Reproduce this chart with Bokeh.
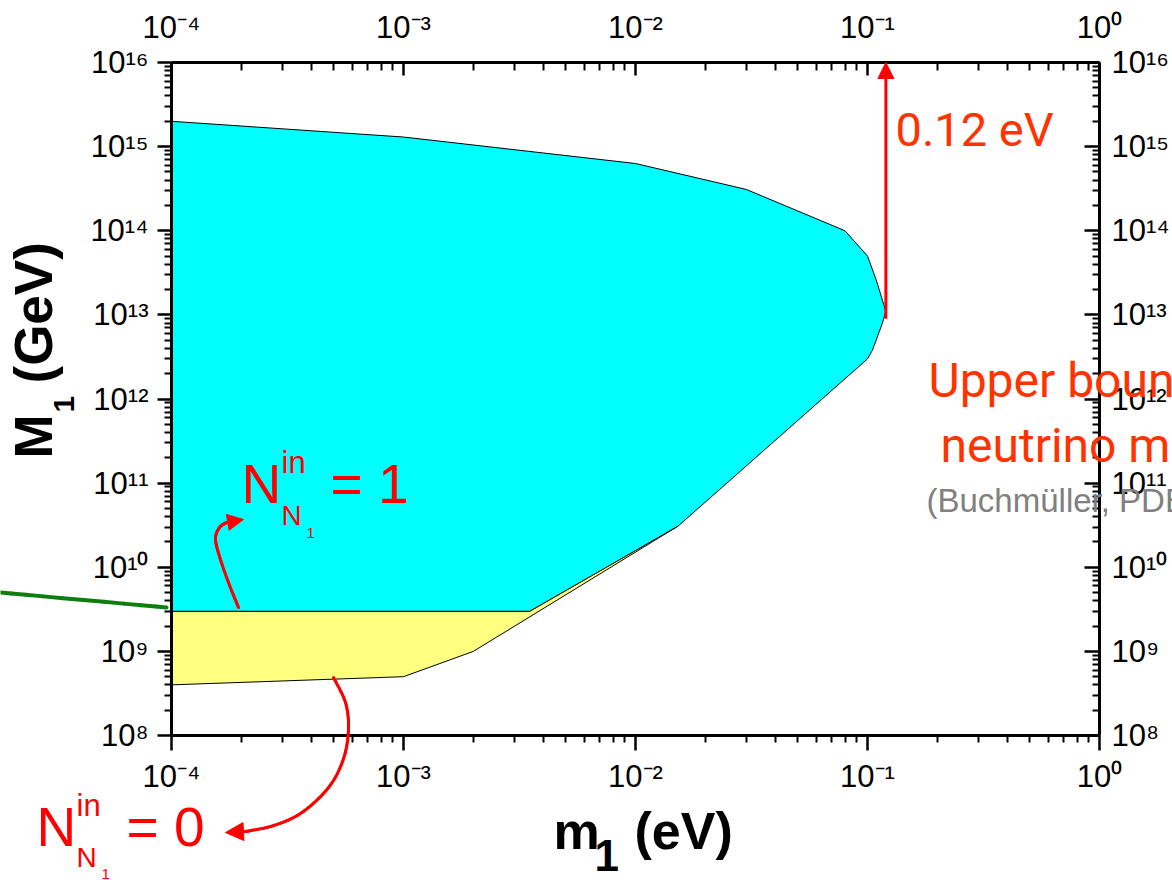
import numpy as np
from bokeh.plotting import figure
from bokeh.models import (LogAxis, FixedTicker, CustomJSTickFormatter, Label, Arrow,
                          NormalHead, ColumnDataSource, Range1d)
from bokeh.embed import file_html
from bokeh.resources import INLINE

# ---------------- data ----------------
x_major = [1e-4, 1e-3, 1e-2, 1e-1, 1e0]
y_major = [1e8, 1e9, 1e10, 1e11, 1e12, 1e13, 1e14, 1e15, 1e16]

# N_N1^in = 1 allowed region (cyan)
cyan_m1 = [1e-4, 1e-3, 1e-2, 0.03, 0.08, 0.1, 0.109, 0.12, 0.116, 0.105, 0.1, 0.065, 0.0153, 3.5e-3, 1e-4]
cyan_M1 = [2e15, 1.3e15, 6.3e14, 3.1e14, 1e14, 5e13, 2.6e13, 1.1e13, 8e12, 3.8e12, 3e12, 1.05e12, 3.1e10, 3e9, 3e9]

# N_N1^in = 0 extra region (yellow)
yellow_m1 = [1e-4, 3.5e-3, 0.0153, 2e-3, 1e-3, 1e-4]
yellow_M1 = [3e9, 3e9, 3.1e10, 1e9, 5e8, 4e8]

bound_m1 = 0.12          # upper bound on m1 (eV)
bound_M1 = [9e12, 1e16]  # vertical extent of the bound arrow

# ---------------- layout (pixels of the plot box) ----------------
W, H = 1172, 880
FL, FR, FT, FB = 171, 1099, 62, 735


def X(px):
    return 10 ** (-4 + (px - FL) / (FR - FL) * 4)


def Y(py):
    return 10 ** (16 - (py - FT) / (FB - FT) * 8)


def minors(majors):
    out = []
    for m in majors[:-1]:
        out += [k * m for k in range(2, 10)]
    return out


# the frame covers the whole canvas; the axes sit at fixed locations around the plot box
p = figure(width=W, height=H, x_axis_type="log", y_axis_type="log",
           x_axis_location=None, y_axis_location=None,
           x_range=Range1d(X(0), X(W)), y_range=Range1d(Y(H), Y(0)),
           output_backend="svg", toolbar_location=None,
           min_border_left=0, min_border_right=0, min_border_top=0, min_border_bottom=0)
p.xgrid.visible = False
p.ygrid.visible = False
p.outline_line_color = None
p.background_fill_color = "white"
p.border_fill_color = "white"

fmt_code = """
const sup = {"-":"\u207b","0":"\u2070","1":"\u00b9","2":"\u00b2","3":"\u00b3","4":"\u2074",
             "5":"\u2075","6":"\u2076","7":"\u2077","8":"\u2078","9":"\u2079"};
const e = Math.round(Math.log10(tick));
return "10" + String(e).split("").map(c => sup[c]).join("");
"""

xt = FixedTicker(ticks=x_major, minor_ticks=minors(x_major))
yt = FixedTicker(ticks=y_major, minor_ticks=minors(y_major))


def make_axis(ticker, loc, bounds, tin, tout, mtin, mtout, standoff):
    ax = LogAxis(ticker=ticker, fixed_location=loc, bounds=bounds,
                 formatter=CustomJSTickFormatter(code=fmt_code))
    ax.axis_line_width = 3
    ax.axis_line_color = "black"
    ax.major_tick_line_width = 2.5
    ax.minor_tick_line_width = 2
    ax.major_tick_in = tin
    ax.major_tick_out = tout
    ax.minor_tick_in = mtin
    ax.minor_tick_out = mtout
    ax.major_label_standoff = standoff
    ax.major_label_text_font = "Liberation Sans"
    ax.major_label_text_font_size = "31px"
    ax.major_label_text_color = "black"
    return ax


xb = (x_major[0], x_major[-1])
yb = (y_major[0], y_major[-1])
p.add_layout(make_axis(xt, y_major[0], xb, 0, 15, 0, 7, 8), "below")
p.add_layout(make_axis(xt, y_major[-1], xb, 13, 0, 8, 0, 18), "above")
p.add_layout(make_axis(yt, x_major[0], yb, 0, 14, 0, 7, 9), "left")
p.add_layout(make_axis(yt, x_major[-1], yb, 15, 0, 7, 0, 12), "right")

# regions
p.patch(yellow_m1, yellow_M1, fill_color="#FFFF80", line_color="black", line_width=1)
p.patch(cyan_m1, cyan_M1, fill_color="#00FFFF", line_color="black", line_width=1)

RED = "#FF0000"
ORANGE = "#FF3300"
COND = "Roboto"
BASE = 0.38  # baseline correction (fraction of font size)


def lab(px, py, text, size, color="black", font="Liberation Sans", bold=False, rotated=False):
    if rotated:
        px = px - BASE * size
    else:
        py = py - BASE * size
    p.add_layout(Label(x=X(px), y=Y(py), text=text, text_font=font, text_font_size=f"{size}px",
                       text_color=color, text_font_style="bold" if bold else "normal",
                       angle=np.pi / 2 if rotated else 0.0, text_align="left",
                       text_baseline="alphabetic"))


# axis titles
lab(553, 850, "m", 52, bold=True)
lab(594, 872, "1", 44, bold=True)
lab(634, 850, "(eV)", 52, bold=True)
lab(53, 458, "M", 53, bold=True, rotated=True)
lab(75, 412, "1", 30, bold=True, rotated=True)
lab(53, 383, "(GeV)", 53, bold=True, rotated=True)

# bound arrow and labels
p.add_layout(Arrow(x_start=bound_m1, y_start=bound_M1[0], x_end=bound_m1, y_end=bound_M1[1],
                   line_color=RED, line_width=3,
                   end=NormalHead(size=16, fill_color=RED, line_color=RED, line_width=1)))
lab(895, 147, "0.12 eV", 47, color=ORANGE, font=COND)
lab(928, 398, "Upper bound on", 48, color=ORANGE, font=COND)
lab(940, 463, "neutrino mass", 48, color=ORANGE, font=COND)
lab(926, 513, "(Buchm\u00fcller, PDB, Pl\u00fcmacher)", 33, color="#808080")

# N^in = 1 label
lab(241, 504, "N", 55, color=RED)
lab(281, 474, "in", 31, color=RED)
lab(281, 526, "N", 28, color=RED)
lab(306, 538, "1", 15, color=RED)
lab(330, 504, "= 1", 55, color=RED)

# N^in = 0 label
lab(36, 847, "N", 55, color=RED)
lab(76, 817, "in", 31, color=RED)
lab(76, 868, "N", 28, color=RED)
lab(101, 879, "1", 15, color=RED)
lab(126, 847, "= 0", 55, color=RED)


def catmull(pts, n=10):
    P = np.array(pts, float)
    P = np.vstack([P[0], P, P[-1]])
    out = []
    for i in range(1, len(P) - 2):
        p0, p1, p2, p3 = P[i - 1], P[i], P[i + 1], P[i + 2]
        for t in np.linspace(0, 1, n, endpoint=False):
            out.append(0.5 * (2 * p1 + (-p0 + p2) * t + (2 * p0 - 5 * p1 + 4 * p2 - p3) * t * t
                              + (-p0 + 3 * p1 - 3 * p2 + p3) * t ** 3))
    out.append(P[-2])
    return np.array(out)


def curve_arrow(waypoints, tip, color, width, head):
    c = catmull(waypoints)
    xs = [X(a) for a in c[:, 0]]
    ys = [Y(b) for b in c[:, 1]]
    src = ColumnDataSource(dict(x0=xs[:-1], y0=ys[:-1], x1=xs[1:], y1=ys[1:]))
    p.add_layout(Arrow(x_start="x0", y_start="y0", x_end="x1", y_end="y1", source=src,
                       end=None, line_color=color, line_width=width, line_cap="round"))
    if tip is not None:
        p.add_layout(Arrow(x_start=xs[-1], y_start=ys[-1], x_end=X(tip[0]), y_end=Y(tip[1]),
                           line_color=color, line_width=width,
                           end=NormalHead(size=head, fill_color=color, line_color=color, line_width=1)))


curve_arrow([(238, 607), (228, 582), (219, 556), (215, 538), (219, 527), (226, 522)],
            (243, 519), RED, 3, 16)
curve_arrow([(333, 677), (345, 702), (348, 728), (344, 755), (333, 780), (316, 800),
             (295, 816), (270, 826), (245, 831)], (225, 832), RED, 3, 18)

# green line entering from the left
curve_arrow([(0, 592), (166, 607)], None, "#0E7F0E", 4, 0)

open("out.html", "w").write(file_html(p, INLINE))
